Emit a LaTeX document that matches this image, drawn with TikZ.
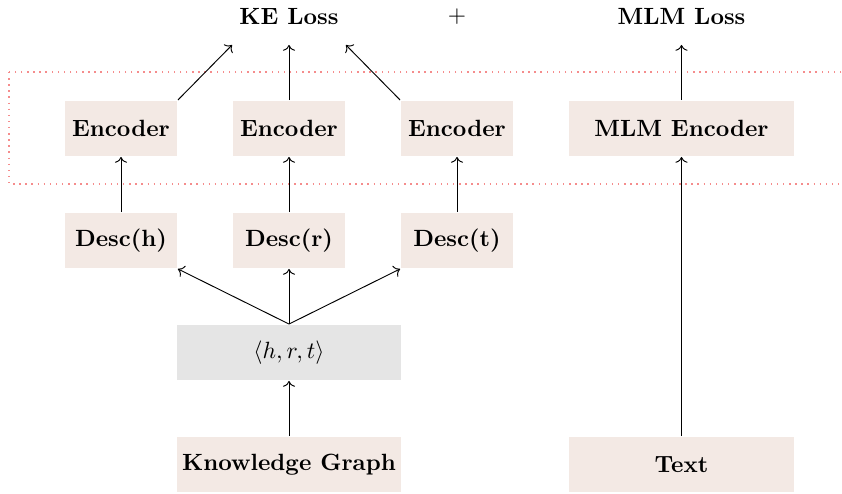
\documentclass[tikz,border=0pt]{standalone}
\usetikzlibrary{arrows.meta}
\definecolor{boxfill}{RGB}{243,233,228}
\definecolor{grayfill}{RGB}{229,229,229}
\definecolor{dotred}{RGB}{245,140,140}
\begin{document}
\begin{tikzpicture}[x=0.4255pt,y=-0.4255pt,
  box/.style={fill=boxfill,minimum width=48pt,minimum height=23.8pt,inner sep=0pt,font=\bfseries},
  widebox/.style={box,minimum width=95.5pt},
  lossbox/.style={minimum width=48pt,minimum height=23.8pt,inner sep=0pt,font=\bfseries},
  arr/.style={->,line width=0.4pt}]
\useasboundingbox (0,0) rectangle (842,494);
\draw[dotred,dotted,line width=0.6pt] (9,72) rectangle (860,184);
% loss row
\node[lossbox] (ke) at (289,16.5) {KE Loss};
\node (plus) at (457,16.5) {$+$};
\node[lossbox,minimum width=95.5pt] (mlml) at (681.5,16.5) {MLM Loss};
% encoders
\node[box] (e1) at (121,128.5) {Encoder};
\node[box] (e2) at (289,128.5) {Encoder};
\node[box] (e3) at (457,128.5) {Encoder};
\node[widebox] (me) at (681.5,128.5) {MLM Encoder};
% descs
\node[box] (dh) at (121,240.5) {Desc(h)};
\node[box] (dr) at (289,240.5) {Desc(r)};
\node[box] (dt) at (457,240.5) {Desc(t)};
% triple
\node[widebox,fill=grayfill,font=\normalfont] (hrt) at (289,352.5) {$\langle h, r, t\rangle$};
% bottom
\node[widebox] (kg) at (289,464.5) {Knowledge Graph};
\node[widebox] (txt) at (681.5,464.5) {Text};
% arrows
\draw[arr] (e1.north east) -- (ke.south west);
\draw[arr] (e2.north) -- (ke.south);
\draw[arr] (e3.north west) -- (ke.south east);
\draw[arr] (me.north) -- (mlml.south);
\draw[arr] (dh.north) -- (e1.south);
\draw[arr] (dr.north) -- (e2.south);
\draw[arr] (dt.north) -- (e3.south);
\draw[arr] (hrt.north) -- (dh.south east);
\draw[arr] (hrt.north) -- (dr.south);
\draw[arr] (hrt.north) -- (dt.south west);
\draw[arr] (kg.north) -- (hrt.south);
\draw[arr] (txt.north) -- (me.south);
\end{tikzpicture}
\end{document}
